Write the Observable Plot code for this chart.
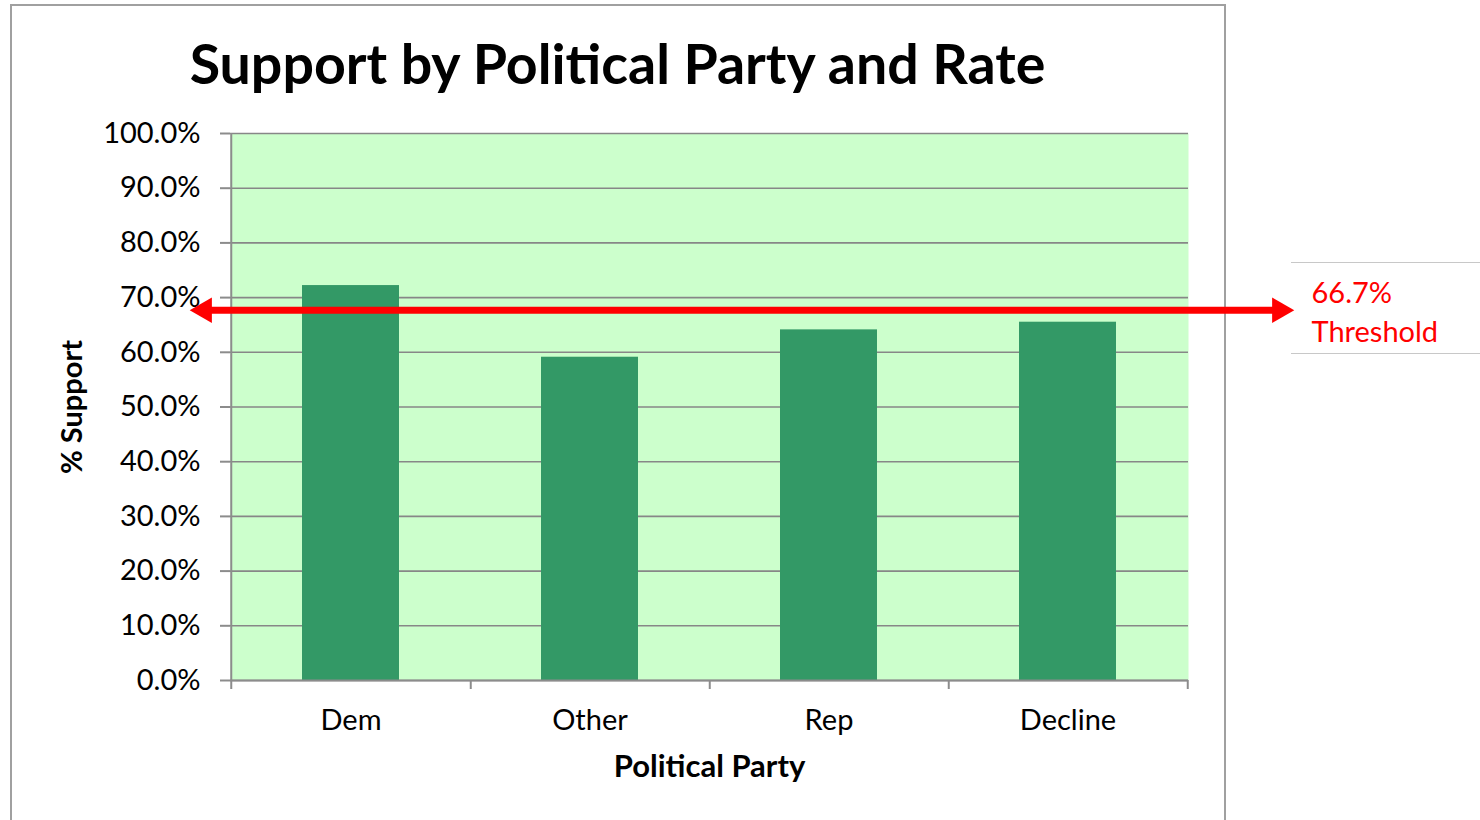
<!DOCTYPE html>
<html><head><meta charset="utf-8">
<script src="https://cdn.jsdelivr.net/npm/d3@7"></script>
<script src="https://cdn.jsdelivr.net/npm/@observablehq/plot@0.6"></script>
<style>
html,body{margin:0;padding:0;background:#fff;overflow:hidden}
#wrap{position:relative;width:1480px;height:820px;font-family:Lato,"Open Sans",sans-serif}
#border{position:absolute;left:10px;top:4px;width:1216px;height:860px;border:2px solid #a0a0a0;box-sizing:border-box}
#title{position:absolute;left:10px;width:1215px;top:35px;text-align:center;font-weight:bold;font-size:55.5px;line-height:1;color:#000;white-space:nowrap}
#box{position:absolute;left:1291px;top:262px;width:200px;height:92px;border-top:1.5px solid #c8c8c8;border-bottom:1.5px solid #c8c8c8;box-sizing:border-box}
#chart{position:absolute;left:0;top:0}
</style></head>
<body>
<div id="wrap">
  <div id="border"></div>
  <div id="box"></div>
  <div id="chart"></div>
  <div id="title">Support by Political Party and Rate</div>
</div>
<script>
const categories = ["Dem", "Other", "Rep", "Decline"];
const support = [72.2, 59.1, 64.1, 65.5];
const yTicks = [0, 10, 20, 30, 40, 50, 60, 70, 80, 90, 100];
const thresholdLabel = "66.7%\nThreshold";
const thresholdDrawn = 67.7; // arrow position as drawn in the picture
const xTitle = "Political Party";
const yTitle = "% Support";

const rows = categories.map((c, i) => ({party: c, value: support[i]}));

const W = 1480, H = 820;
const mL = 230, mR = 292, mT = 133, mB = 140;
const step = (W - mL - mR) / categories.length;
const font = "Lato, 'Open Sans', sans-serif";

const chart = Plot.plot({
  width: W, height: H,
  marginLeft: mL, marginRight: mR, marginTop: mT, marginBottom: mB,
  style: {fontFamily: font, background: "transparent", color: "#000", overflow: "visible"},
  x: {domain: categories, paddingInner: 0.595, paddingOuter: 0.2975, axis: null},
  y: {domain: [0, 100], axis: null},
  marks: [
    Plot.frame({fill: "#ccffcc", stroke: null}),
    Plot.ruleY(yTicks, {stroke: "#878787", strokeWidth: 1.6}),
    Plot.barY(rows, {x: "party", y: "value", fill: "#339966"}),
    // axis lines
    Plot.ruleX([categories[0]], {x: d => d, dx: -step / 2, stroke: "#8c8c8c", strokeWidth: 2, insetBottom: -9}),
    Plot.ruleX(categories, {x: d => d, dx: step / 2, y1: 0, y2: 0, stroke: "#8c8c8c", strokeWidth: 2, insetBottom: -9}),
    Plot.ruleY([0], {stroke: "#8c8c8c", strokeWidth: 2}),
    Plot.axisY({ticks: yTicks, tickSize: 10, tickPadding: 20, tickFormat: d => d.toFixed(1) + "%",
      fontSize: 29, stroke: "#8c8c8c", strokeWidth: 2, label: null, color: "#000"}),
    // category labels
    Plot.text(categories, {x: d => d, frameAnchor: "bottom", dy: 40, fontSize: 29, fill: "#000", lineAnchor: "middle"}),
    Plot.text([xTitle], {frameAnchor: "bottom", dy: 87, fontSize: 31, fontWeight: "bold", fill: "#000", lineAnchor: "middle", textAnchor: "middle"}),
    Plot.text([yTitle], {frameAnchor: "left", dx: -158, rotate: -90, fontSize: 29, fontWeight: "bold", fill: "#000", textAnchor: "middle", lineAnchor: "middle"}),
    // threshold arrow
    Plot.ruleY([thresholdDrawn], {stroke: "#ff0000", strokeWidth: 7, insetLeft: -28, insetRight: -92}),
    Plot.dot([thresholdDrawn], {y: d => d, frameAnchor: "left", dx: -26, symbol: "triangle", rotate: -90, r: 9.5, fill: "#ff0000", stroke: null}),
    Plot.dot([thresholdDrawn], {y: d => d, frameAnchor: "right", dx: 91, symbol: "triangle", rotate: 90, r: 9.5, fill: "#ff0000", stroke: null}),
    Plot.text([thresholdLabel], {y: d => thresholdDrawn, frameAnchor: "right", dx: 123, textAnchor: "start", lineHeight: 1.35, fontSize: 29, fill: "#ff0000"})
  ]
});
document.getElementById("chart").appendChild(chart);
</script>
</body></html>
